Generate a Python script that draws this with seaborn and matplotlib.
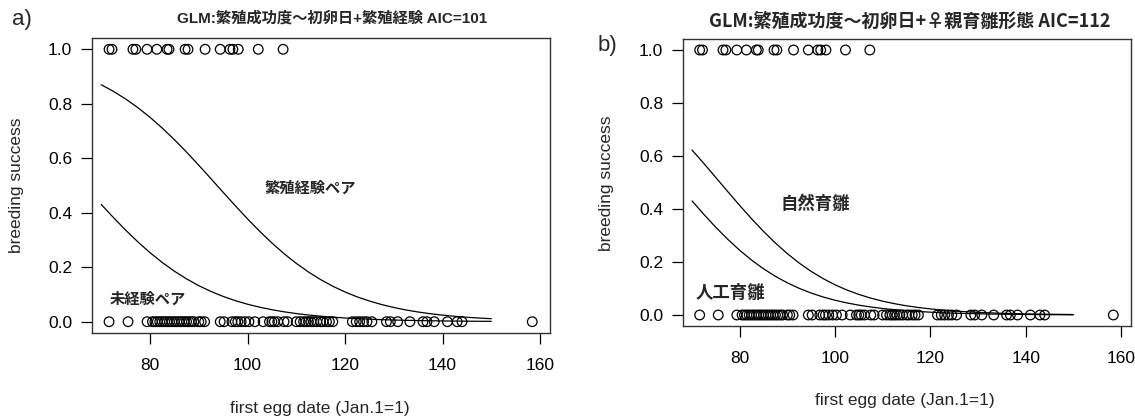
import matplotlib
matplotlib.use("Agg")
import matplotlib.pyplot as plt
import seaborn as sns
import pandas as pd

# ---------------- data ----------------
success_dates = [71.6, 72.2, 76.5, 77.1, 79.4, 81.4, 83.5, 83.9, 87.2, 87.8,
                 91.3, 94.4, 96.4, 97.0, 98.1, 102.2, 107.3]
failure_dates = [71.6, 75.5, 79.4,
                 80.5, 81.0, 81.5, 82.0, 82.5, 83.0, 83.5, 84.0, 84.5, 85.0, 85.5,
                 86.0, 86.5, 87.0, 87.5, 88.0, 88.5, 89.0, 90.0, 90.5, 91.2,
                 94.4, 95.2, 96.8, 97.5, 98.0, 98.7, 99.5, 100.3, 101.5, 103.2,
                 104.5, 105.0, 105.5, 106.2, 107.5, 108.2,
                 110.0, 110.8, 111.5, 112.0, 112.5, 113.0, 113.6, 114.2, 115.0,
                 115.5, 116.2, 116.8, 117.5,
                 121.5, 122.3, 123.0, 123.8, 124.5, 125.5,
                 128.5, 129.3, 130.8, 133.3, 136.0, 136.8, 138.3,
                 141.0, 143.0, 144.0, 158.4]

curve_x = [70, 72.5, 75, 77.5, 80, 82.5, 85, 87.5, 90, 92.5, 95, 97.5, 100,
           102.5, 105, 107.5, 110, 112.5, 115, 117.5, 120, 122.5, 125, 127.5,
           130, 132.5, 135, 137.5, 140, 142.5, 145, 147.5, 150]
# panel a: fitted probability, experienced / inexperienced pairs
p_experienced = [0.8699, 0.8455, 0.8176, 0.7858, 0.7503, 0.7109, 0.6682, 0.6225,
                 0.5744, 0.5250, 0.4750, 0.4256, 0.3775, 0.3318, 0.2891, 0.2497,
                 0.2142, 0.1824, 0.1545, 0.1301, 0.1091, 0.0911, 0.0759, 0.0630,
                 0.0522, 0.0431, 0.0356, 0.0293, 0.0241, 0.0198, 0.0163, 0.0134,
                 0.0110]
p_inexperienced = [0.4305, 0.3823, 0.3363, 0.2932, 0.2535, 0.2176, 0.1854, 0.1571,
                   0.1324, 0.1110, 0.0928, 0.0773, 0.0642, 0.0532, 0.0440, 0.0363,
                   0.0299, 0.0246, 0.0202, 0.0166, 0.0136, 0.0112, 0.0092, 0.0075,
                   0.0062, 0.0051, 0.0042, 0.0034, 0.0028, 0.0023, 0.0019, 0.0015,
                   0.0013]
# panel b: fitted probability, parent-reared / hand-reared females
p_natural = [0.6225, 0.5714, 0.5187, 0.4657, 0.4134, 0.3630, 0.3154, 0.2714,
             0.2315, 0.1958, 0.1645, 0.1374, 0.1141, 0.0942, 0.0776, 0.0637,
             0.0522, 0.0426, 0.0347, 0.0283, 0.0230, 0.0187, 0.0151, 0.0123,
             0.0100, 0.0080, 0.0065, 0.0053, 0.0043, 0.0035, 0.0028, 0.0023,
             0.0018]
p_artificial = [0.4305, 0.3793, 0.3307, 0.2855, 0.2442, 0.2071, 0.1744, 0.1459,
                0.1213, 0.1004, 0.0828, 0.0680, 0.0557, 0.0455, 0.0371, 0.0303,
                0.0246, 0.0200, 0.0162, 0.0132, 0.0107, 0.0086, 0.0070, 0.0057,
                0.0046, 0.0037, 0.0030, 0.0024, 0.0020, 0.0016, 0.0013, 0.0010,
                0.0008]

x_ticks = [80, 100, 120, 140, 160]
y_ticks = [0.0, 0.2, 0.4, 0.6, 0.8, 1.0]
y_ticklabels = ["0.0", "0.2", "0.4", "0.6", "0.8", "1.0"]

title_a = "GLM:繁殖成功度〜初卵日+繁殖経験 AIC=101"
title_b = "GLM:繁殖成功度〜初卵日+♀親育雛形態 AIC=112"
label_a_hi, label_a_lo = "繁殖経験ペア", "未経験ペア"
label_b_hi, label_b_lo = "自然育雛", "人工育雛"
x_title = "first egg date (Jan.1=1)"
y_title = "breeding success"

points = pd.DataFrame({
    "date": success_dates + failure_dates,
    "success": [1.0] * len(success_dates) + [0.0] * len(failure_dates),
})

# ---------------- styling ----------------
sns.set_theme(style="ticks")
plt.rcParams["font.family"] = ["Liberation Sans", "DejaVu Sans"]
CJK = ["Noto Sans CJK JP", "DejaVu Sans"]
TITLE_FONT = ["Liberation Sans", "Noto Sans CJK JP", "DejaVu Sans"]

W, H = 1135, 417
fig = plt.figure(figsize=(W / 100, H / 100), dpi=100)
fig.patch.set_facecolor("white")


def px_axes(left, top, right, bottom):
    return fig.add_axes([left / W, 1 - bottom / H, (right - left) / W, (bottom - top) / H])


ax_a = px_axes(91.5, 38.4, 549.8, 332.6)
ax_b = px_axes(682.5, 39.4, 1130.5, 325.6)


def draw(ax, hi, lo):
    sns.scatterplot(data=points, x="date", y="success", ax=ax, marker="o",
                    s=48, facecolors="none", edgecolor="black", linewidth=0.9,
                    legend=False, zorder=3)
    sns.lineplot(x=curve_x, y=hi, ax=ax, color="black", linewidth=0.9, zorder=2)
    sns.lineplot(x=curve_x, y=lo, ax=ax, color="black", linewidth=0.9, zorder=2)
    ax.set_xlim(68, 162)
    ax.set_ylim(-0.04, 1.04)
    ax.set_xticks(x_ticks)
    ax.set_xticklabels([str(t) for t in x_ticks])
    ax.set_yticks(y_ticks)
    ax.set_yticklabels(y_ticklabels)
    ax.tick_params(axis="both", direction="out", length=8, width=0.9,
                   colors="black", labelsize=12.5)
    ax.tick_params(axis="x", pad=10)
    ax.tick_params(axis="y", pad=6)
    for sp in ax.spines.values():
        sp.set_visible(True)
        sp.set_color("#333333")
        sp.set_linewidth(1.0)
    ax.set_xlabel("")
    ax.set_ylabel("")
    ax.set_facecolor("white")


draw(ax_a, p_experienced, p_inexperienced)
draw(ax_b, p_natural, p_artificial)

# annotations
ax_a.text(112.8, 0.49, label_a_hi, family=CJK, fontweight="bold", fontsize=11,
          ha="center", va="center")
ax_a.text(79.6, 0.085, label_a_lo, family=CJK, fontweight="bold", fontsize=11,
          ha="center", va="center")
ax_b.text(95.8, 0.42, label_b_hi, family=CJK, fontweight="bold", fontsize=12.5,
          ha="center", va="center")
ax_b.text(78.0, 0.083, label_b_lo, family=CJK, fontweight="bold", fontsize=12.5,
          ha="center", va="center")

# titles
fig.text(332 / W, 1 - 18 / H, title_a, family=TITLE_FONT, fontweight="bold",
         fontsize=11, ha="center", va="center")
fig.text(910 / W, 1 - 21 / H, title_b, family=CJK, fontweight="bold",
         fontsize=13, ha="center", va="center")

# panel letters
fig.text(22 / W, 1 - 20 / H, "a)", fontsize=16, ha="center", va="center")
fig.text(607 / W, 1 - 45 / H, "b)", fontsize=16, ha="center", va="center")

# axis titles
fig.text(17 / W, 1 - 185 / H, y_title, fontsize=12.5, rotation=90,
         ha="center", va="center")
fig.text(607 / W, 1 - 183 / H, y_title, fontsize=12.5, rotation=90,
         ha="center", va="center")
fig.text(320 / W, 1 - 408 / H, x_title, fontsize=12.5, ha="center", va="center")
fig.text(905 / W, 1 - 401 / H, x_title, fontsize=12.5, ha="center", va="center")

fig.savefig("out.png", dpi=100, facecolor="white")
